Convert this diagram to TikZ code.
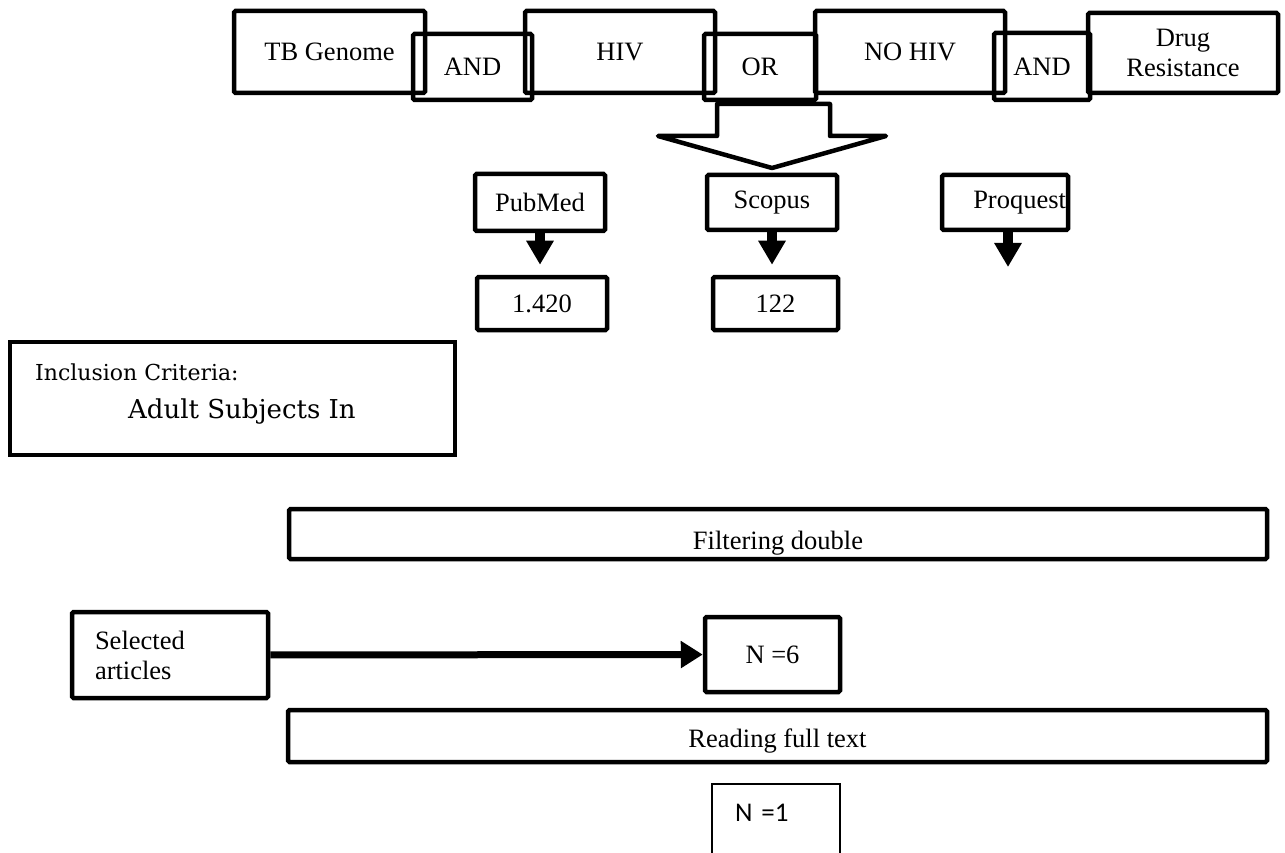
\documentclass[tikz,border=0pt]{standalone}
\usepackage{fontspec}
\setmainfont{Liberation Serif}
\newfontfamily\calibrifont{Carlito}
\newfontfamily\criteriafont{DejaVu Serif}
\usetikzlibrary{arrows.meta}

\begin{document}
\begin{tikzpicture}[x=1pt,y=-1pt,
  box/.style={draw, line width=4.5pt, rounded corners=1.5pt, inner sep=0pt, align=center,
    font=\fontsize{26.5}{30}\selectfont},
  down/.style={line width=10pt, -{Triangle[length=24pt,width=26pt]}},
  bigarrow/.style={line width=4.5pt, line join=round}]
\useasboundingbox (0,0) rectangle (1285,853);
\clip (0,0) rectangle (1285,853);

\node[box, minimum width=191pt, minimum height=82pt] (tb) at (329.5,52) {TB Genome};
\node[box, minimum width=119pt, minimum height=66pt] (and1) at (472.5,67) {AND};
\node[box, minimum width=190pt, minimum height=82pt] (hiv) at (620,52) {HIV};
\node[box, minimum width=112pt, minimum height=66pt] (or) at (760,67) {OR};
\node[box, minimum width=190pt, minimum height=82pt] (nohiv) at (910,52) {NO HIV};
\node[box, minimum width=96pt, minimum height=67pt] (and2) at (1042,66.5) {AND};
\node[box, minimum width=190pt, minimum height=80pt] (drug) at (1183,53) {Drug\\Resistance};

\draw[bigarrow] (717,104) -- (830,104) -- (830,136) -- (886,136) -- (772,168)
  -- (658,136) -- (717,136) -- cycle;

\node[box, minimum width=130pt, minimum height=57pt] (pubmed) at (540,202.5) {PubMed};
\node[box, minimum width=130pt, minimum height=55pt] (scopus) at (772,202.5) {Scopus};
\node[box, minimum width=126pt, minimum height=55pt, text width=122pt, align=right] (proquest) at (1005,202.5) {Proquest};
\node[box, minimum width=130pt, minimum height=53pt] (num1) at (542,303.5) {1.420};
\node[box, minimum width=125pt, minimum height=53pt] (num2) at (775.5,303.5) {122};
\coordinate (proqend) at (1008,267);

\draw[down, shorten >=10pt] (pubmed.south) -- (pubmed.south |- num1.north);
\draw[down, shorten >=10pt] (scopus.south) -- (scopus.south |- num2.north);
\draw[down] (proquest.south -| proqend) -- (proqend);

\node[draw, line width=4.5pt, minimum width=445pt, minimum height=113pt] (criteria) at (232.5,398.5) {};
\node[anchor=base west, inner sep=0pt, font=\criteriafont\fontsize{22}{26}\selectfont] (crittitle) at (35,380) {Inclusion Criteria:};
\node[anchor=base west, inner sep=0pt, font=\criteriafont\fontsize{26}{30}\selectfont] (critadult) at (128,418) {Adult Subjects In};

\node[box, minimum width=978pt, minimum height=50pt, text height=36pt, text depth=6pt] (filter) at (778,534) {Filtering double};

\node[box, minimum width=196pt, minimum height=86pt, text width=150pt, align=left] (selected) at (170,655) {Selected\\articles};
\node[box, minimum width=135pt, minimum height=75pt] (nsix) at (772.5,654.5) {N =6};
\draw[line width=7pt, -{Triangle[length=22pt,width=26pt]}] (selected) -- (nsix);

\node[box, minimum width=979pt, minimum height=52pt, text height=28pt, text depth=6pt] (reading) at (777.5,736) {Reading full text};

\node[draw, line width=1.5pt, anchor=north, minimum width=128pt, inner xsep=23pt, inner ysep=0pt,
  text width=82pt, align=left, text height=38pt, text depth=100pt,
  font=\calibrifont\fontsize{27}{30}\selectfont] (none) at (776,783) {N =1};
\end{tikzpicture}
\end{document}
